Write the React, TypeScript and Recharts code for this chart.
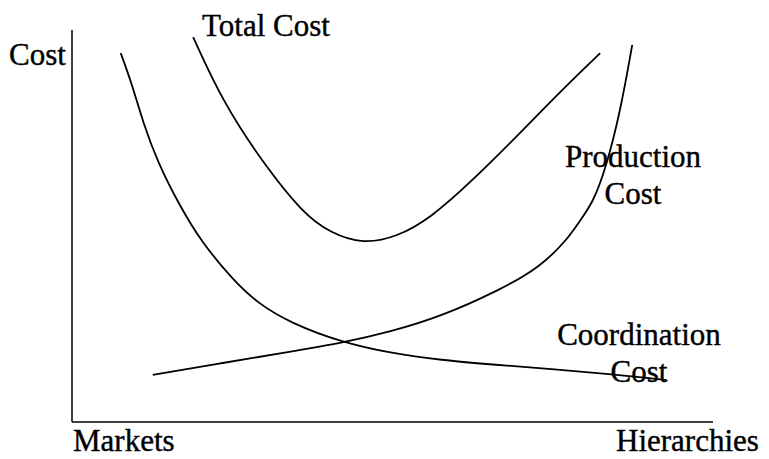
import { LineChart, Line, XAxis, YAxis, ReferenceLine, Customized } from 'recharts';

// curves, x = Markets (0) .. Hierarchies (100), y = cost 0..100
const coordX = [7.6, 9.4, 11.1, 13.4, 16.9, 20.0, 25.1, 28.9, 34.0, 42.3, 49.6, 57.4, 66.8, 82.4, 92.8];
const coordY = [94.1, 86.0, 76.3, 66.1, 54.9, 46.4, 36.2, 30.4, 25.3, 20.2, 17.6, 15.8, 14.5, 12.5, 10.7];

const prodX = [12.6, 23.6, 34.0, 42.3, 49.6, 57.4, 66.8, 73.0, 77.2, 79.3, 81.3, 83.2, 85.5, 87.4];
const prodY = [12.0, 15.1, 17.9, 20.2, 23.0, 26.8, 33.7, 39.5, 46.4, 51.5, 56.1, 64.3, 78.8, 96.2];

const totalX = [18.9, 23.6, 29.8, 36.0, 40.3, 45.4, 50.7, 55.9, 62.1, 69.9, 76.1, 82.4];
const totalY = [98.2, 81.4, 66.1, 53.3, 48.2, 45.4, 47.2, 52.0, 61.0, 73.7, 84.2, 94.1];

const toPoints = (xs: number[], ys: number[]) => xs.map((x, i) => ({ x, y: ys[i] }));

const coordination = toPoints(coordX, coordY);
const production = toPoints(prodX, prodY);
const total = toPoints(totalX, totalY);

const font = {
    fontFamily: '"Liberation Serif", "Times New Roman", serif',
    fontSize: 31,
    fill: '#000',
    stroke: '#000',
    strokeWidth: 0.4,
};

const Labels = () => (
    <g style={font}>
        <text x={202} y={36}>Total Cost</text>
        <text x={9} y={65}>Cost</text>
        <text x={633} y={167} textAnchor="middle">Production</text>
        <text x={633} y={204} textAnchor="middle">Cost</text>
        <text x={639} y={345} textAnchor="middle">Coordination</text>
        <text x={639} y={382} textAnchor="middle">Cost</text>
        <text x={73} y={451}>Markets</text>
        <text x={616} y={451}>Hierarchies</text>
    </g>
);

const App = () => {
    return (
        <div style={{ position: 'absolute', left: 0, top: 0, background: '#fff' }}>
            <LineChart
                width={769}
                height={459}
                margin={{ top: 30, right: 56, bottom: 37, left: 72 }}
            >
                <XAxis type="number" dataKey="x" domain={[0, 100]} hide />
                <YAxis type="number" dataKey="y" domain={[0, 100]} hide />
                <ReferenceLine x={0} stroke="#000" strokeWidth={1.5} />
                <ReferenceLine y={0} stroke="#000" strokeWidth={1.5} />
                <Line data={coordination} dataKey="y" type="basis" stroke="#000" strokeWidth={1.8} dot={false} isAnimationActive={false} />
                <Line data={production} dataKey="y" type="basis" stroke="#000" strokeWidth={1.8} dot={false} isAnimationActive={false} />
                <Line data={total} dataKey="y" type="basis" stroke="#000" strokeWidth={1.8} dot={false} isAnimationActive={false} />
                <Customized component={Labels} />
            </LineChart>
        </div>
    );
};

export default App;
